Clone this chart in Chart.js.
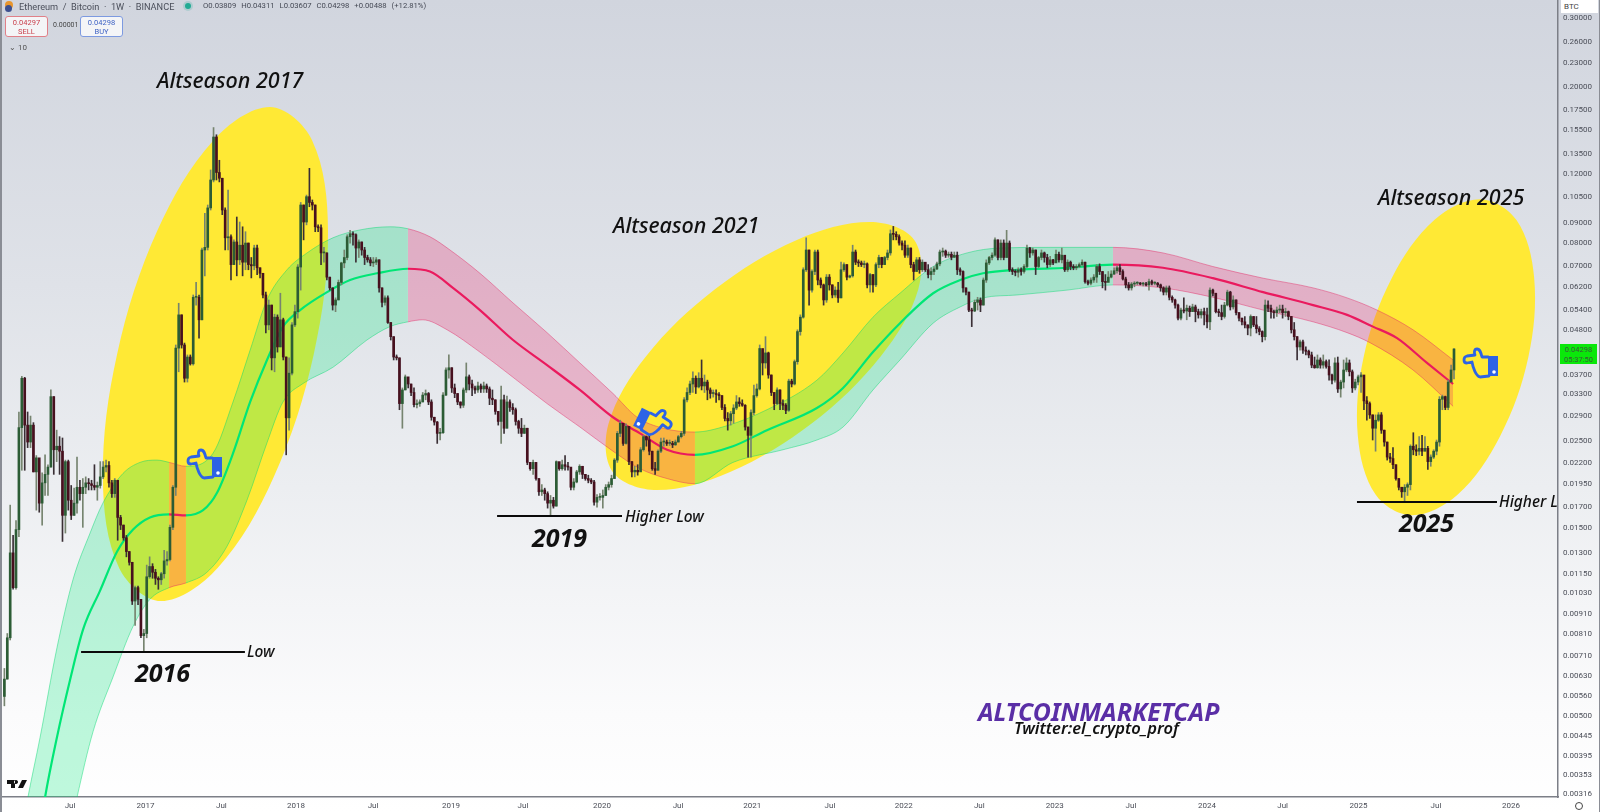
<!DOCTYPE html>
<html><head><meta charset="utf-8">
<script src="https://cdn.jsdelivr.net/npm/chart.js@4/dist/chart.umd.min.js"></script>
<style>
html,body{margin:0;padding:0;width:1600px;height:812px;overflow:hidden;background:linear-gradient(#d1d5de 0,#dfe2e8 35%,#eceef1 60%,#fbfbfc 88%,#fff 100%);font-family:Roboto,sans-serif}
#c{position:absolute;left:0;top:0}
.t{position:absolute;white-space:nowrap;line-height:1}
.a{font-family:"Noto Sans",sans-serif;font-style:italic;color:#111;transform:translateY(-50%)}
.h{font-size:9.2px;color:#4a4e5a;left:19px;top:1.5px}
.o{font-size:7.7px;color:#454955;left:203px;top:2px;word-spacing:3px}
.box{position:absolute;background:#f4f5f7;border-radius:3px;text-align:center;font-size:7.5px;line-height:9px;box-sizing:border-box;padding-top:1px}
svg{position:absolute;overflow:visible}
</style></head><body>
<canvas id="c" width="1600" height="812"></canvas>
<div class="t h">Ethereum&nbsp; / &nbsp;Bitcoin&nbsp; · &nbsp;1W&nbsp; · &nbsp;BINANCE</div>
<div class="t o">O0.03809 H0.04311 L0.03607 C0.04298 +0.00488 (+12.81%)</div>
<div style="position:absolute;left:5px;top:1px;width:8px;height:8px;border-radius:50%;background:#e8962e"></div>
<div style="position:absolute;left:5px;top:5px;width:7px;height:7px;border-radius:50%;background:#3c4f8f"></div>
<div style="position:absolute;left:185px;top:3px;width:6px;height:6px;border-radius:50%;background:#22ab94;box-shadow:0 0 0 2px rgba(34,171,148,.2)"></div>
<div class="box" style="left:5px;top:16px;width:43px;height:21px;border:1px solid #e08088;color:#c9414d">0.04297<br>SELL</div>
<div class="t" style="left:53px;top:22px;font-size:7px;color:#444">0.00001</div>
<div class="box" style="left:80px;top:16px;width:43px;height:21px;border:1px solid #7d9ae0;color:#3f63c4">0.04298<br>BUY</div>
<div class="t" style="left:9px;top:44px;font-size:8px;color:#555">⌄ 10</div>

<div class="t a" style="left:157px;top:80px;font-size:21.5px;font-weight:500">Altseason 2017</div>
<div class="t a" style="left:613px;top:225px;font-size:21.5px;font-weight:500">Altseason 2021</div>
<div class="t a" style="left:1378px;top:197px;font-size:21.5px;font-weight:500">Altseason 2025</div>
<div class="t a" style="left:135px;top:672px;font-size:25px;font-weight:700">2016</div>
<div class="t a" style="left:532px;top:537px;font-size:25px;font-weight:700">2019</div>
<div class="t a" style="left:1399px;top:522px;font-size:25px;font-weight:700">2025</div>
<div class="t a" style="left:247px;top:652px;font-size:15.5px;font-weight:500">Low</div>
<div class="t a" style="left:625px;top:517px;font-size:15.5px;font-weight:500">Higher Low</div>
<div style="position:absolute;left:1499px;top:490px;width:59px;height:24px;overflow:hidden"><div class="t a" style="left:0;top:12px;font-size:15.5px;font-weight:500">Higher Low</div></div>
<div class="t a" style="left:978px;top:711px;font-size:24.8px;font-weight:700;color:#5a2ea6">ALTCOINMARKETCAP</div>
<div class="t a" style="left:1014px;top:728px;font-size:16.5px;font-weight:600">Twitter:el_crypto_prof</div>

<svg width="0" height="0"><defs><g id="hand">
<path d="M26 10 L20 10 C19 6 18 2 15 2 C12 2 12 6 13 8 L5 9 C1 10 1 16 5 16 L10 15 C11 21 14 29 18 30 L27 29" fill="none" stroke="#2d63e6" stroke-width="2.8" stroke-linejoin="round" stroke-linecap="round"/>
<rect x="26" y="9" width="10" height="20" fill="#2d63e6"/><circle cx="32" cy="25" r="1.8" fill="#fff"/></g></defs></svg>
<svg style="left:186px;top:448px" width="37" height="32"><use href="#hand"/></svg>
<svg style="left:638px;top:406px" width="37" height="32"><g transform="translate(35,0) scale(-1,1) rotate(-26 18 16)"><use href="#hand"/></g></svg>
<svg style="left:1462px;top:347px" width="37" height="32"><use href="#hand"/></svg>
<svg style="left:7px;top:780px" width="20" height="9"><path d="M0 0H8V8H4V4H0Z M9 0a2 2 0 1 0 .01 0 M15 0H20L16 8H11Z" fill="#111"/></svg>

<div class="t" style="left:1561px;top:0;width:37px;height:13px;background:#fff;font-size:8px;color:#444;padding:3px 0 0 3px;box-sizing:border-box">BTC</div>
<div class="t" style="left:1560px;top:344px;width:37px;height:20px;background:#0ae80a;font-size:7.5px;color:#3a5a3a;line-height:9.5px;text-align:center;padding-top:1px;box-sizing:border-box">0.04298<br>05:37:50</div>
<div style="position:absolute;left:1575px;top:802px;width:8px;height:8px;border:1px solid #444;border-radius:50%;box-sizing:border-box"></div>
<div style="position:absolute;left:0;top:0;width:1.5px;height:812px;background:#8a8d95"></div>
<div style="position:absolute;left:1598.5px;top:0;width:1.5px;height:812px;background:#8a8d95"></div>
<script>
const UNIT=1e-5;
const firstOpen=560;
const closes=[620,790,1300,1060,1490,2710,3620,2750,2490,2750,
2090,2270,1740,1960,2060,2150,3250,2380,2430,2360,
1620,2220,1770,1620,1740,1910,1840,1910,1960,1950,
1930,1910,1930,2030,2150,2170,1960,1840,1990,1600,
1530,1420,1310,1230,980,1060,990,800,810,1130,
1200,1160,1120,1110,1150,1240,1250,1510,1910,4320,
5250,4400,3620,4100,3940,5820,5820,5100,7680,7800,
9830,11580,14900,12100,11700,9710,8250,8300,7050,8050,
7250,7900,7150,8000,7050,7000,7770,6920,6700,5900,
4950,5560,4080,5180,4350,5100,4100,2870,3730,4950,
5350,6950,10000,9050,10500,10150,10000,8800,8750,7550,
7550,6550,6150,5560,5730,6350,7120,7350,8300,8450,
8400,7770,8050,7680,7350,7250,7120,7150,7250,6150,
5650,5800,5020,4620,4100,4080,3120,3380,3650,3500,
3330,3100,3120,3150,3280,3310,3150,2880,2800,2620,
2630,3280,3800,3850,3420,3310,3150,3090,3380,3650,
3500,3420,3380,3460,3400,3460,3400,3220,3190,2980,
2810,3190,2700,3150,3050,3010,2810,2700,2620,2700,
2210,2130,2210,2010,1860,1880,1840,1740,1770,1710,
2220,2130,2180,2160,2150,1910,1970,2090,2160,2060,
2010,1990,1970,1750,1800,1800,1820,1910,1940,2010,
2240,2620,2780,2470,2730,2220,2090,2110,2090,2380,
2570,2520,2360,2130,2110,2360,2490,2490,2470,2470,
2450,2490,2570,2620,3190,3330,3500,3620,3440,3620,
3460,3540,3380,3310,3310,3290,3270,3050,2860,2820,
2940,3040,3150,3120,3090,2720,2590,2960,3270,3400,
4310,3960,4200,3690,3330,3120,3380,3120,3090,3000,
3560,3500,3990,4760,5180,6840,7680,6070,6770,7590,
6440,6260,5730,6550,6260,5900,6070,5800,6840,7050,
6550,6600,7590,7150,7120,7050,7080,6260,6650,6260,
7050,7350,7050,7350,7550,8450,8420,8300,8000,7900,
7450,7770,7050,6770,7250,6840,7150,6840,6650,6770,
6870,7080,7590,7630,7450,7490,7360,7450,6840,6770,
6150,6000,5400,5370,5650,5730,5560,6440,7120,7350,
7450,8150,7350,8000,7350,8000,6840,6770,6740,6840,
6770,6970,7770,7550,7680,6970,7350,7550,7350,7050,
7250,7120,7490,7250,7450,6840,7150,6970,6920,6970,
7050,7150,6380,6320,6440,6550,6970,6770,6380,6350,
6550,6670,6800,6920,6770,6480,6260,6150,6290,6320,
6320,6290,6290,6260,6380,6320,6320,6260,6150,6000,
6150,5820,5730,5560,5150,5400,5370,5460,5350,5500,
5350,5250,5350,5250,5040,6070,5960,5350,5320,5200,
5560,6000,5500,5730,5320,5150,5040,4950,4860,5200,
4950,4840,4760,4620,5560,5460,5350,5320,5400,5430,
5320,5350,5200,4810,4620,4350,4480,4270,4240,4150,
3910,3850,4030,3910,3990,3880,3690,3580,3960,3400,
3540,3800,3960,3760,3420,3540,3650,3690,3170,3120,
2920,2700,2830,2920,2670,2490,2280,2260,2180,2010,
1910,1860,1910,1940,2430,2380,2360,2400,2360,2400,
2220,2280,2360,2490,3200,3250,3050,3540,3800,4298];
const highs=[660,810,1720,1440,1570,2970,3660,3640,2970,2900,
2790,2300,2240,2080,2310,2180,3380,3250,2670,2570,
2550,2240,2240,1930,1900,2280,1990,2010,2030,2010,
1990,2180,1970,2220,2220,2240,2220,1990,2010,1820,
1620,1530,1440,1310,1230,1070,1070,990,830,1210,
1270,1220,1180,1130,1160,1320,1310,1530,1930,4400,
5620,5250,4450,4150,4150,5900,6350,5900,7770,9530,
10000,12280,15750,15100,13000,11700,9830,10920,8400,8150,
9320,9050,8800,8550,8000,7350,7900,7900,6920,6700,
6000,5730,5560,5270,5250,5960,5150,4100,4080,5020,
5560,7050,10150,10000,10600,12400,10300,10000,8900,8900,
7800,7550,6550,6150,5800,6440,7150,7680,8400,8620,
8550,8450,8150,8050,7800,7450,7350,7350,7350,7250,
6150,5870,5870,5020,4620,4150,4080,3420,3690,3620,
3500,3420,3190,3190,3330,3380,3330,3190,2880,2810,
2700,3330,3850,4150,3850,3500,3310,3150,3420,3960,
3690,3580,3460,3540,3500,3540,3500,3440,3380,3190,
2980,3460,3280,3260,3190,3120,3040,2830,2860,2750,
2700,2210,2240,2210,2010,1940,1900,1860,1820,1800,
2230,2210,2240,2300,2210,2130,2010,2110,2180,2160,
2060,2050,2010,1990,1830,1840,1880,1940,1970,2050,
2260,2650,2830,2770,2770,2720,2220,2160,2180,2410,
2590,2580,2590,2360,2210,2380,2550,2550,2520,2520,
2500,2520,2590,2650,3230,3420,3560,3760,3670,3740,
4030,3690,3580,3420,3380,3380,3330,3270,3100,2960,
2980,3100,3270,3230,3190,3100,2720,3010,3480,3500,
4400,4270,4620,4220,3690,3330,3420,3380,3190,3120,
3600,3600,4030,4810,5250,6920,8250,7680,6840,7680,
7680,6520,6290,6650,6650,6260,6190,6350,7150,7120,
7050,6630,7900,7680,7250,7200,7200,7120,6700,6650,
7120,7450,7360,7400,7680,8640,8820,8550,8400,8100,
8100,7900,7770,7150,7350,7350,7250,7080,7050,6920,
6970,7150,7680,7770,7680,7590,7590,7590,7590,6920,
6800,6150,6000,5460,5730,5820,5800,6520,7250,7400,
7550,8250,8150,8150,8150,8620,8100,6920,6840,6920,
6920,7050,7900,7800,7770,7680,7400,7680,7590,7490,
7400,7270,7680,7590,7770,7400,7250,7200,7050,7050,
7120,7250,7150,6440,6520,6650,7050,7080,6770,6650,
6770,6800,6920,7000,7050,6840,6550,6350,6350,6380,
6380,6350,6350,6350,6480,6440,6380,6350,6290,6190,
6220,6220,5870,5760,5590,5460,5800,5560,5530,5590,
5560,5430,5430,5460,5460,6150,6110,5960,5430,5560,
5650,6070,6030,5870,5730,5320,5150,5200,4950,5250,
5200,5200,4900,4780,5730,5700,5560,5400,5500,5560,
5560,5460,5370,5200,5020,4620,4530,4530,4350,4270,
4220,4100,4150,4080,4150,4030,4030,3710,4080,4100,
3580,4030,4080,4030,3800,3600,3690,3740,3440,3250,
3150,2920,2920,2960,2960,2670,2490,2330,2410,2180,
2010,1910,1940,1960,2450,2630,2450,2570,2590,2570,
2430,2310,2380,2520,3250,3280,3260,3580,3910,4311];
const lows=[530,620,780,1050,1050,1430,2110,2110,2410,2410,
2090,1670,1650,1530,1820,1820,2150,2060,2220,2060,
1390,1460,1670,1580,1620,1640,1770,1510,1840,1880,
1880,1880,1770,1900,2010,2090,1910,1800,1800,1400,
1490,1400,1270,1210,960,850,960,790,730,790,
1120,1120,1080,1050,1080,1120,1210,1240,1490,1820,
3760,4320,3540,3540,3910,3910,5560,4580,5100,6600,
7680,9710,11450,11580,11450,9450,7680,7680,6440,7050,
6600,7050,6600,6840,6840,6520,6840,6650,6520,5800,
4720,4810,3800,3760,4220,4350,4030,2310,2670,3690,
4900,5150,6070,8150,8900,9900,9710,8550,8550,7050,
7150,6440,6070,5400,5350,5730,6260,6920,7250,8000,
7900,7150,7350,7450,7050,7150,7000,6970,7050,6000,
5500,5560,4990,4530,4030,4030,3010,2700,3380,3420,
3270,3060,3040,3070,3150,3190,3100,2830,2750,2470,
2520,2620,3270,3620,3330,3230,3100,3040,3050,3330,
3380,3270,3310,3330,3330,3330,3330,3100,3100,2930,
2750,2470,2620,2700,2980,2930,2750,2620,2570,2620,
2180,2110,2060,1990,1820,1820,1770,1690,1610,1690,
1710,2110,2110,2110,2110,1880,1880,1960,2060,2010,
1990,1960,1950,1720,1700,1770,1690,1820,1880,1910,
2010,2210,2570,2440,2460,2180,2030,2030,2050,2110,
2360,2430,2310,2110,2060,2110,2340,2430,2440,2440,
2410,2440,2490,2550,2590,3150,3290,3330,3310,3420,
3380,3330,3190,3220,3240,3140,3190,3010,2820,2670,
2750,2780,3010,3070,3070,2670,2280,2280,2920,3240,
3380,3690,3840,3620,3270,3010,3100,3010,3010,2940,
2980,3440,3480,3930,4660,5150,6770,5560,6000,6650,
6260,6150,5560,5650,6070,5800,5820,5650,5800,6770,
6440,6520,6550,7050,6970,6970,6920,6150,6000,6000,
6190,6920,6920,7050,7250,7450,8150,8150,7900,7680,
7350,7350,6920,6440,6770,6700,6770,6770,6520,6440,
6650,6840,7000,7400,7350,7360,7250,7350,6650,6630,
6000,5900,5350,4900,5350,5400,5350,5560,6350,7050,
7250,7400,7250,7250,7250,7350,6770,6650,6600,6550,
6630,6700,6920,7350,7450,6650,6920,7250,7150,6920,
6970,7050,7150,7150,7120,6770,6770,6840,6840,6840,
6920,7000,6320,6260,6260,6350,6350,6650,6150,6070,
6440,6520,6650,6700,6650,6440,6150,6070,6070,6190,
6260,6260,6220,6220,6070,6260,6260,6190,6030,5900,
5900,5730,5650,5460,5100,5100,5310,5100,5200,5370,
5040,5150,5150,4950,4860,4810,5870,5310,5200,5100,
5150,5530,5400,5430,5250,5070,4950,4860,4670,4640,
4900,4720,4670,4480,4530,5350,5150,5150,5200,5320,
5150,5200,5100,4720,4530,4030,4270,4190,4150,4080,
3850,3840,3840,3840,3840,3840,3580,3500,3540,3330,
3240,3420,3760,3670,3330,3380,3480,3330,3010,2830,
2860,2520,2360,2810,2620,2430,2240,2210,2130,1990,
1880,1800,1750,1820,1880,2310,2300,2310,2300,2360,
2120,2160,2260,2310,2430,3010,3010,3010,3580,3607];

const midWeeks=[12.3,14,18.1,22.6,27.1,32.9,38.8,44.3,50.1,56.7,62.5,68.4,73.2,78.7,84.6,90.4,95.9,101.8,111.1,119,128.3,138.9,146.5,154.4,163.7,175.1,186.8,198.1,209.5,218.8,228.1,237.7,250.8,262.5,279.7,288.7,299,308.3,319.7,329,336.9,348.6,365.8,381.6,398.8,416,433.3,450.5,462.2,471.1,479.4,489.7,498.7];
const midPrices=[.00256,.0031,.00441,.00617,.0083,.0104,.0131,.0149,.016,.0163,.0162,.0167,.0185,.0233,.0315,.0403,.049,.054,.06,.0644,.067,.0688,.0677,.0615,.054,.0453,.0391,.0338,.0288,.0262,.0238,.0231,.0243,.0267,.0304,.0342,.0422,.05,.0596,.0644,.067,.0684,.0692,.0705,.0692,.0651,.06,.0556,.0525,.049,.0458,.0396,.035];
const upperWeeks=[6.1,8.1,12.3,18.1,23.6,29.5,33.9,40.8,46.7,52.5,56.7,62.5,71.8,78.7,84.6,90.4,97.3,104.2,113.1,122.4,132.7,138.9,146.5,153.4,163.7,175.1,186.8,198.1,209.5,217.8,226.8,237.7,248.7,262.5,279.7,288.7,299,308.3,319.7,331.4,342.7,360,381.6,398.8,416,433.3,450.5,462.2,472.5,484.9,498.7];
const upperPrices=[.00256,.0031,.00441,.00745,.0111,.0146,.0174,.0207,.0221,.0224,.0221,.0216,.0233,.0315,.0427,.0573,.0684,.0755,.0825,.0864,.088,.087,.083,.0768,.067,.0563,.0473,.0396,.0331,.0288,.027,.0264,.0274,.0301,.0358,.042,.0518,.0596,.0697,.0755,.0777,.078,.078,.0755,.0697,.0651,.0615,.058,.054,.0481,.0403];
const lowerWeeks=[6.1,22.6,25,30.5,37.4,44.3,50.1,56.7,62.5,69.7,76.6,83.5,90.4,95.9,102.8,113.1,124.8,132.7,138.9,144,152.4,163.7,175.1,186.8,198.1,209.5,218.8,228.1,237.7,250.8,268,279.7,288.7,299,308.3,319.7,329,336.9,348.6,365.8,381.6,398.8,416,433.3,450.5,462.2,470.1,484.9,498.7];
const lowerPrices=[.0006,.00256,.0031,.00455,.00628,.00845,.0099,.0106,.0109,.0116,.0135,.0177,.0248,.0315,.0351,.0386,.0453,.049,.0504,.051,.0481,.0422,.0364,.0312,.0272,.0236,.0213,.0201,.0195,.0221,.0238,.0252,.0272,.0338,.0403,.05,.055,.058,.059,.0607,.0626,.0615,.0582,.054,.0504,.0473,.0446,.038,.0307];
const redZones=[[56.7,62.5],[138.9,237.7],[381.6,498.7]];

const season2017Weeks=[72,91.4,105.9,111.4,106.5,92.6,73.4,53.9,39.5,33.9,38.8,52.7,72,91.4,105.9];
const season2017Prices=[.1463,.1776,.1463,.0862,.0417,.0202,.0119,.0098,.0119,.0202,.0417,.0862,.1463,.1776,.1463];
const season2021Weeks=[272.8,298,313.2,314.6,301.7,278,249.8,224.6,209.4,208,220.9,244.6,272.8,298,313.2];
const season2021Prices=[.0815,.0905,.0815,.061,.0412,.0278,.0209,.0188,.0209,.0278,.0412,.061,.0815,.0905,.0815];
const season2025Weeks=[492.2,507.9,520.5,526.6,524.6,514.9,500.3,484.5,472,465.9,467.9,477.6,492.2,507.9,520.5];
const season2025Prices=[.0916,.1035,.0916,.0652,.041,.0258,.0183,.0162,.0183,.0258,.041,.0652,.0916,.1035,.0916];

const lowLineWeeks=[26.4,82.8];const lowLinePrice=.00727;
const higherLowWeeks=[169.6,212.6];const higherLowPrice=.01613;
const higherLow2Weeks=[465.6,513.8];const higherLow2Price=.01752;

const yTicks=[.3,.26,.23,.2,.175,.155,.135,.12,.105,.09,.08,.07,.062,.054,.048,.037,.033,.029,.025,.022,.0195,.017,.015,.013,.0115,.0103,.0091,.0081,.0071,.0063,.0056,.005,.00445,.00395,.00353,.00316];
const xTickWeeks=[22.6,48.6,74.7,100.4,126.9,153.7,178.5,205.7,231.9,257.4,284.2,309.6,335.6,361.6,387.8,414,440,466.1,492.8,518.6];
const xTickLabels=["Jul","2017","Jul","2018","Jul","2019","Jul","2020","Jul","2021","Jul","2022","Jul","2023","Jul","2024","Jul","2025","Jul","2026"];

const zip=(w,p)=>w.map((x,i)=>({x,y:p[i]}));
const inRed=x=>redZones.some(z=>x>=z[0]&&x<z[1]);
const isUp=i=>closes[i]>=(i?closes[i-1]:firstOpen);
const wicks=closes.map((c,i)=>({x:i,y:[lows[i]*UNIT,highs[i]*UNIT]}));
const bodies=closes.map((c,i)=>({x:i,y:[(i?closes[i-1]:firstOpen)*UNIT,c*UNIT]}));
const seasonDs=(w,p)=>({type:'line',data:zip(w,p),borderWidth:0,pointRadius:0,tension:.35,fill:'shape',backgroundColor:'#ffe935',order:10});
const hLine=(w,p)=>({type:'line',data:w.map(x=>({x,y:p})),borderColor:'#0a0a0a',borderWidth:2,pointRadius:0,fill:false,order:0});
const bandSeg={borderColor:c=>inRed(c.p0.parsed.x)?'rgba(226,40,100,.45)':'rgba(0,214,110,.45)',backgroundColor:c=>inRed(c.p0.parsed.x)?'rgba(233,30,99,.26)':'rgba(0,230,118,.25)'};
const datasets=[
 seasonDs(season2017Weeks,season2017Prices),
 seasonDs(season2021Weeks,season2021Prices),
 seasonDs(season2025Weeks,season2025Prices),
 {type:'line',data:zip(lowerWeeks,lowerPrices),borderWidth:1,pointRadius:0,cubicInterpolationMode:'monotone',fill:false,segment:{borderColor:bandSeg.borderColor},order:6},
 {type:'line',data:zip(upperWeeks,upperPrices),borderWidth:1,pointRadius:0,cubicInterpolationMode:'monotone',fill:3,backgroundColor:'rgba(0,230,118,.25)',segment:bandSeg,order:5},
 {type:'line',data:zip(midWeeks,midPrices),borderWidth:2.2,pointRadius:0,cubicInterpolationMode:'monotone',fill:false,segment:{borderColor:c=>inRed(c.p0.parsed.x)?'#ea1a5e':'#00e676'},order:4},
 {type:'bar',data:wicks,barThickness:1,grouped:false,backgroundColor:wicks.map((w,i)=>isUp(i)?'#76846f':'#3a2f35'),order:3},
 {type:'bar',data:bodies,barThickness:2,grouped:false,minBarLength:1,backgroundColor:bodies.map((b,i)=>isUp(i)?'#2c5c35':'#47101e'),order:2},
 hLine(lowLineWeeks,lowLinePrice),hLine(higherLowWeeks,higherLowPrice),hLine(higherLow2Weeks,higherLow2Price)
];
new Chart(document.getElementById('c'),{type:'bar',data:{datasets},options:{
 responsive:false,animation:false,devicePixelRatio:1,
 layout:{padding:0},
 plugins:{legend:{display:false},tooltip:{enabled:false}},
 scales:{
  x:{type:'linear',position:'bottom',min:-1.51,max:534.8,offset:false,grid:{display:false,drawTicks:false},border:{color:'#7c7f87',width:1.5},
   afterFit(a){a.height=15;a.paddingLeft=0;a.paddingRight=0},
   afterBuildTicks(a){a.ticks=xTickWeeks.map(v=>({value:v}))},
   ticks:{autoSkip:false,maxRotation:0,padding:4,font:{family:'Roboto',size:8},color:'#4a4d57',callback(v){const i=xTickWeeks.indexOf(v);return i<0?'':xTickLabels[i]}}},
  y:{type:'logarithmic',position:'right',bounds:'data',min:.003105,max:.3328,grid:{display:false,drawTicks:false},border:{color:'#7c7f87',width:1.5},
   afterFit(a){a.width=42;a.paddingTop=0;a.paddingBottom=0},
   afterBuildTicks(a){a.ticks=yTicks.map(v=>({value:v}))},
   ticks:{autoSkip:false,padding:5,font:{family:'Roboto',size:8},color:'#4a4d57',callback(v){return Number(v).toFixed(5)}}}
 }
}});
</script>
</body></html>
